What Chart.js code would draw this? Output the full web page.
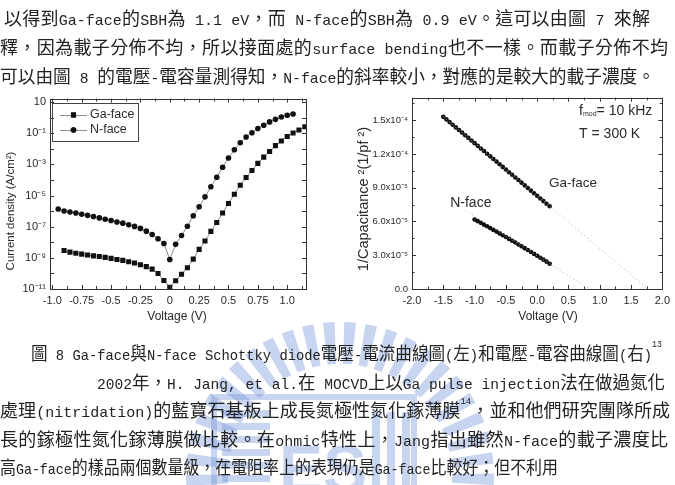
<!DOCTYPE html>
<html>
<head>
<meta charset="utf-8">
<script src="https://cdn.jsdelivr.net/npm/chart.js@4.4.1/dist/chart.umd.min.js"></script>
<style>
html, body { margin: 0; padding: 0; background: #fff; }
body { width: 675px; height: 485px; position: relative; overflow: hidden; }
#wm { position: absolute; left: 0; top: 0; z-index: 0; }
canvas.ch { position: absolute; z-index: 1; }
.ln {
  position: absolute; display: inline-block; white-space: nowrap; z-index: 2;
  font-family: "Noto Sans CJK TC", sans-serif; font-size: 18px; line-height: 24px;
  color: #222; transform-origin: 0 50%;
}
.ln .l { font-family: "Liberation Mono", monospace; font-size: 15px; }
.ln sup { font-family: "Liberation Mono", monospace; font-size: 9px; vertical-align: top; line-height: 10px; }
</style>
</head>
<body>
<canvas id="wm" width="675" height="485"></canvas>
<canvas id="iv" class="ch" width="320" height="240" style="left:0;top:88px"></canvas>
<canvas id="cv" class="ch" width="335" height="240" style="left:340px;top:88px"></canvas>
<script>
// ---- I-V data (left) ----
const ivVoltGa = [-0.90, -0.85, -0.80, -0.75, -0.70, -0.65, -0.60, -0.55, -0.50, -0.45,
  -0.40, -0.35, -0.30, -0.25, -0.20, -0.15, -0.10, -0.05, 0.00, 0.05,
  0.10, 0.15, 0.20, 0.25, 0.30, 0.35, 0.40, 0.45, 0.50, 0.55,
  0.60, 0.65, 0.70, 0.75, 0.80, 0.85, 0.90, 0.95, 1.00, 1.05, 1.10, 1.15];
const ivCurGa = [2.95e-9, 2.34e-9, 2.0e-9, 1.74e-9, 1.51e-9, 1.35e-9, 1.23e-9, 1.07e-9, 9.3e-10, 7.9e-10,
  6.9e-10, 5.6e-10, 4.7e-10, 3.6e-10, 2.75e-10, 1.9e-10, 1.0e-10, 3.5e-11, 1.3e-11, 3.4e-11,
  8.9e-11, 2.3e-10, 8.3e-10, 3.5e-9, 1.2e-8, 5.0e-8, 1.86e-7, 7.6e-7, 3.1e-6, 1.23e-5,
  4.6e-5, 1.45e-4, 4.1e-4, 1.17e-3, 2.95e-3, 6.8e-3, 1.62e-2, 3.2e-2, 6.3e-2, 0.105, 0.162, 0.263];
const ivVoltN = [-0.95, -0.90, -0.85, -0.80, -0.75, -0.70, -0.65, -0.60, -0.55, -0.50,
  -0.45, -0.40, -0.35, -0.30, -0.25, -0.20, -0.15, -0.10, -0.05, 0.00,
  0.05, 0.10, 0.15, 0.20, 0.25, 0.30, 0.35, 0.40, 0.45, 0.50,
  0.55, 0.60, 0.65, 0.70, 0.75, 0.80, 0.85, 0.90, 0.95, 1.00, 1.05];
const ivCurN = [1.38e-6, 1.02e-6, 8.9e-7, 7.6e-7, 6.3e-7, 5.4e-7, 4.5e-7, 3.7e-7, 3.0e-7, 2.5e-7,
  2.0e-7, 1.7e-7, 1.32e-7, 1.05e-7, 7.8e-8, 5.2e-8, 3.2e-8, 1.7e-8, 8.3e-9, 7.9e-10,
  7.4e-9, 2.75e-8, 1.07e-7, 5.1e-7, 1.9e-6, 8.3e-6, 3.7e-5, 1.5e-4, 6.6e-4, 2.6e-3,
  8.7e-3, 2.5e-2, 5.8e-2, 0.11, 0.204, 0.33, 0.54, 0.79, 1.12, 1.45, 1.74];
const ivXTicks = [-1.0, -0.75, -0.5, -0.25, 0, 0.25, 0.5, 0.75, 1.0];
const ivXLabels = ["-1.0", "-0.75", "-0.5", "-0.25", "0", "0.25", "0.5", "0.75", "1.0"];
const ivXMinor = [-0.875, -0.625, -0.375, -0.125, 0.125, 0.375, 0.625, 0.875, 1.125];
const ivYTicks = [1e-11, 1e-10, 1e-9, 1e-8, 1e-7, 1e-6, 1e-5, 1e-4, 1e-3, 1e-2, 1e-1, 1, 10];
const ivYLabels = ["10⁻¹¹", "", "10⁻⁹", "", "10⁻⁷", "", "10⁻⁵", "", "10⁻³", "", "10⁻¹", "", "10"];

// ---- C-V data (right) ----
const cvVoltGa = [-1.50, -1.45, -1.40, -1.35, -1.30, -1.25, -1.20, -1.15, -1.10, -1.05,
  -1.00, -0.95, -0.90, -0.85, -0.80, -0.75, -0.70, -0.65, -0.60, -0.55,
  -0.50, -0.45, -0.40, -0.35, -0.30, -0.25, -0.20, -0.15, -0.10, -0.05,
  0.00, 0.05, 0.10, 0.15, 0.20];
const cvInvGa = [1.530e-4, 1.507e-4, 1.483e-4, 1.460e-4, 1.436e-4, 1.413e-4, 1.390e-4, 1.366e-4, 1.343e-4, 1.319e-4,
  1.296e-4, 1.272e-4, 1.249e-4, 1.226e-4, 1.202e-4, 1.179e-4, 1.155e-4, 1.132e-4, 1.109e-4, 1.085e-4,
  1.062e-4, 1.038e-4, 1.015e-4, 0.991e-4, 0.968e-4, 0.945e-4, 0.921e-4, 0.898e-4, 0.874e-4, 0.851e-4,
  0.828e-4, 0.804e-4, 0.781e-4, 0.757e-4, 0.735e-4];
const cvVoltN = [-1.00, -0.95, -0.90, -0.85, -0.80, -0.75, -0.70, -0.65, -0.60, -0.55,
  -0.50, -0.45, -0.40, -0.35, -0.30, -0.25, -0.20, -0.15, -0.10, -0.05,
  0.00, 0.05, 0.10, 0.15, 0.20];
const cvInvN = [6.18e-5, 6.03e-5, 5.88e-5, 5.72e-5, 5.57e-5, 5.41e-5, 5.25e-5, 5.10e-5, 4.94e-5, 4.78e-5,
  4.62e-5, 4.45e-5, 4.29e-5, 4.13e-5, 3.96e-5, 3.80e-5, 3.63e-5, 3.46e-5, 3.29e-5, 3.12e-5,
  2.95e-5, 2.78e-5, 2.61e-5, 2.43e-5, 2.25e-5];
// dotted linear fits extrapolated to the voltage axis
const cvFitGaV = [-1.50, 1.77];
const cvFitGa = [1.53e-4, 0];
const cvFitNV = [-1.15, 0.84];
const cvFitN = [7.0e-5, 0];
const cvXTicks = [-2.0, -1.5, -1.0, -0.5, 0.0, 0.5, 1.0, 1.5, 2.0];
const cvXLabels = ["-2.0", "-1.5", "-1.0", "-0.5", "0.0", "0.5", "1.0", "1.5", "2.0"];
const cvXMinor = [-1.75, -1.25, -0.75, -0.25, 0.25, 0.75, 1.25, 1.75];
const cvYTicks = [0, 3e-5, 6e-5, 9e-5, 1.2e-4, 1.5e-4];
const cvYLabels = ["0.0", "3.0x10⁻⁵", "6.0x10⁻⁵", "9.0x10⁻⁵", "1.2x10⁻⁴", "1.5x10⁻⁴"];
const cvYMinor = [1.5e-5, 4.5e-5, 7.5e-5, 1.05e-4, 1.35e-4, 1.65e-4];

const pts = (xs, ys) => xs.map((v, i) => ({ x: v, y: ys[i] }));
const INK = "#2a2a2a";
const tickFont = { family: "Liberation Sans, Arial, sans-serif", size: 11 };

// frame around the plot with inward ticks on all four sides
const frameTicks = {
  id: "frameTicks",
  afterDraw(chart, args, o) {
    const { ctx, chartArea: a, scales: { x, y } } = chart;
    ctx.save();
    ctx.strokeStyle = "#333";
    ctx.lineWidth = 1;
    ctx.strokeRect(Math.round(a.left) + 0.5, Math.round(a.top) + 0.5,
      Math.round(a.right - a.left), Math.round(a.bottom - a.top));
    ctx.beginPath();
    const tx = (v, len) => {
      const p = Math.round(x.getPixelForValue(v)) + 0.5;
      ctx.moveTo(p, a.bottom); ctx.lineTo(p, a.bottom - len);
      ctx.moveTo(p, a.top); ctx.lineTo(p, a.top + len);
    };
    const ty = (v, len) => {
      const p = Math.round(y.getPixelForValue(v)) + 0.5;
      ctx.moveTo(a.left, p); ctx.lineTo(a.left + len, p);
      ctx.moveTo(a.right, p); ctx.lineTo(a.right - len, p);
    };
    x.ticks.forEach(t => tx(t.value, o.major));
    y.ticks.forEach(t => ty(t.value, o.major));
    (o.xMinor || []).forEach(v => tx(v, o.minor));
    (o.yMinor || []).forEach(v => ty(v, o.minor));
    ctx.stroke();
    ctx.restore();
  }
};

// axis titles and in-plot annotations
const textLayer = {
  id: "textLayer",
  afterDraw(chart, args, o) {
    const { ctx, scales } = chart;
    ctx.save();
    ctx.fillStyle = INK;
    for (const t of o.items || []) {
      let px = t.x, py = t.y;
      if (t.xv !== undefined) {
        px = scales.x.getPixelForValue(t.xv);
        py = scales.y.getPixelForValue(t.yv);
      }
      ctx.save();
      ctx.translate(px, py);
      if (t.rot) ctx.rotate(t.rot);
      ctx.textBaseline = "middle";
      if (t.parts) {
        ctx.textAlign = "left";
        let cx = 0;
        for (const p of t.parts) {
          ctx.font = `${p.size}px Liberation Sans, Arial, sans-serif`;
          ctx.fillText(p.text, cx, p.dy || 0);
          cx += ctx.measureText(p.text).width;
        }
      } else {
        ctx.font = `${t.size}px Liberation Sans, Arial, sans-serif`;
        ctx.textAlign = t.align || "center";
        ctx.fillText(t.text, 0, 0);
      }
      ctx.restore();
    }
    ctx.restore();
  }
};

// boxed legend inside the plot (left chart)
const legendBox = {
  id: "legendBox",
  afterDraw(chart, args, o) {
    if (!o.box) return;
    const { ctx } = chart;
    const b = o.box;
    ctx.save();
    ctx.strokeStyle = "#444";
    ctx.lineWidth = 1;
    ctx.strokeRect(b.x + 0.5, b.y + 0.5, b.w, b.h);
    ctx.font = "12.5px Liberation Sans, Arial, sans-serif";
    ctx.textBaseline = "middle";
    chart.data.datasets.forEach((ds, i) => {
      const ly = b.y + o.rows[i];
      ctx.strokeStyle = ds.borderColor;
      ctx.beginPath();
      ctx.moveTo(b.x + 8, ly + 0.5); ctx.lineTo(b.x + 35, ly + 0.5);
      ctx.stroke();
      ctx.fillStyle = "#111";
      Chart.helpers.drawPoint(ctx, { pointStyle: ds.pointStyle, radius: ds.pointRadius, borderWidth: 0 }, b.x + 21.5, ly);
      ctx.fill();
      ctx.fillStyle = INK;
      ctx.fillText(ds.label, b.x + 38, ly);
    });
    ctx.restore();
  }
};

const axisBase = {
  grid: { display: false, drawTicks: false },
  border: { display: false }
};

new Chart(document.getElementById("iv"), {
  type: "scatter",
  data: {
    datasets: [
      { label: "Ga-face", data: pts(ivVoltGa, ivCurGa), showLine: true,
        borderColor: "#8c8c8c", borderWidth: 1, pointStyle: "rect", pointRadius: 3.6,
        pointBackgroundColor: "#111", pointBorderWidth: 0 },
      { label: "N-face", data: pts(ivVoltN, ivCurN), showLine: true,
        borderColor: "#8c8c8c", borderWidth: 1, pointStyle: "circle", pointRadius: 2.8,
        pointBackgroundColor: "#111", pointBorderWidth: 0 }
    ]
  },
  options: {
    responsive: false, animation: false, devicePixelRatio: 1,
    layout: { padding: { top: 8, right: 14, left: 0, bottom: 0 } },
    plugins: {
      legend: { display: false }, tooltip: { enabled: false },
      frameTicks: { major: 4, minor: 3, xMinor: ivXMinor },
      legendBox: { box: { x: 52, y: 15, w: 86, h: 38 }, rows: [12, 27] },
      textLayer: { items: [
        { text: "Current density (A/cm²)", x: 11, y: 123, rot: -Math.PI / 2, size: 11.5 },
        { text: "Voltage (V)", x: 177, y: 229, size: 12 }
      ] }
    },
    scales: {
      x: { ...axisBase, type: "linear", min: -1.02, max: 1.16,
        afterBuildTicks: s => { s.ticks = ivXTicks.map(v => ({ value: v })); },
        afterFit: s => { s.height = 39; },
        ticks: { padding: 5, font: tickFont, color: INK, autoSkip: false, maxRotation: 0,
          callback: (v, i) => ivXLabels[i] } },
      y: { ...axisBase, type: "logarithmic", min: 1e-11, max: 17,
        afterBuildTicks: s => { s.ticks = ivYTicks.map(v => ({ value: v })); },
        afterFit: s => { s.width = 50; },
        ticks: { padding: 4, font: tickFont, color: INK, autoSkip: false,
          callback: (v, i) => ivYLabels[i] } }
    }
  },
  plugins: [frameTicks, textLayer, legendBox]
});

new Chart(document.getElementById("cv"), {
  type: "scatter",
  data: {
    datasets: [
      { label: "Ga-face fit", data: pts(cvFitGaV, cvFitGa), showLine: true, pointRadius: 0,
        borderColor: "#aaa", borderWidth: 1, borderDash: [1, 3] },
      { label: "N-face fit", data: pts(cvFitNV, cvFitN), showLine: true, pointRadius: 0,
        borderColor: "#aaa", borderWidth: 1, borderDash: [1, 3] },
      { label: "Ga-face", data: pts(cvVoltGa, cvInvGa), pointRadius: 2.3,
        pointBackgroundColor: "#111", pointBorderWidth: 0 },
      { label: "N-face", data: pts(cvVoltN, cvInvN), pointRadius: 2.3,
        pointBackgroundColor: "#111", pointBorderWidth: 0 }
    ]
  },
  options: {
    responsive: false, animation: false, devicePixelRatio: 1,
    layout: { padding: { top: 8, right: 8, left: 0, bottom: 0 } },
    plugins: {
      legend: { display: false }, tooltip: { enabled: false },
      frameTicks: { major: 4, minor: 2.5, xMinor: cvXMinor, yMinor: cvYMinor },
      textLayer: { items: [
        { text: "1/Capacitance ²(1/pf ²)", x: 24, y: 111, rot: -Math.PI / 2, size: 14.5 },
        { text: "Voltage (V)", x: 208, y: 229, size: 12 },
        { parts: [{ text: "f", size: 14 }, { text: "mod", size: 7, dy: 3 }, { text: "= 10 kHz", size: 14 }],
          xv: 0.67, yv: 1.58e-4 },
        { text: "T = 300 K", xv: 0.67, yv: 1.375e-4, size: 14, align: "left" },
        { text: "Ga-face", xv: 0.19, yv: 9.4e-5, size: 13.5, align: "left" },
        { text: "N-face", xv: -1.39, yv: 7.6e-5, size: 14, align: "left" }
      ] }
    },
    scales: {
      x: { ...axisBase, type: "linear", min: -2, max: 2,
        afterBuildTicks: s => { s.ticks = cvXTicks.map(v => ({ value: v })); },
        afterFit: s => { s.height = 39; },
        ticks: { padding: 5, font: tickFont, color: INK, autoSkip: false, maxRotation: 0,
          callback: (v, i) => cvXLabels[i] } },
      y: { ...axisBase, type: "linear", min: 0, max: 1.7e-4,
        afterBuildTicks: s => { s.ticks = cvYTicks.map(v => ({ value: v })); },
        afterFit: s => { s.width = 72; },
        ticks: { padding: 4, font: { family: "Liberation Sans, Arial, sans-serif", size: 9.5 },
          color: INK, autoSkip: false, callback: (v, i) => cvYLabels[i] } }
    }
  },
  plugins: [frameTicks, textLayer]
});

// ---- page text (scanned thesis page) ----
const textLines = [
  { x: 4, y: 17, w: 646, t: "以得到Ga-face的SBH為 1.1 eV，而 N-face的SBH為 0.9 eV。這可以由圖 7 來解" },
  { x: 0, y: 46, w: 668, t: "釋，因為載子分佈不均，所以接面處的surface bending也不一樣。而載子分佈不均" },
  { x: 0, y: 75, w: 655, t: "可以由圖 8 的電壓-電容量測得知，N-face的斜率較小，對應的是較大的載子濃度。" },
  { x: 31, y: 352, w: 631, t: "圖 8 Ga-face與N-face Schottky diode電壓-電流曲線圖(左)和電壓-電容曲線圖(右)", sup: "13" },
  { x: 97, y: 381, w: 568, t: "2002年，H. Jang, et al.在 MOCVD上以Ga pulse injection法在做過氮化" },
  { x: 0, y: 409, w: 670, t: "處理(nitridation)的藍寶石基板上成長氮極性氮化鎵薄膜", sup: "14", t2: "，並和他們研究團隊所成" },
  { x: 0, y: 438, w: 668, t: "長的鎵極性氮化鎵薄膜做比較。在ohmic特性上，Jang指出雖然N-face的載子濃度比" },
  { x: 0, y: 466, w: 558, t: "高Ga-face的樣品兩個數量級，在電阻率上的表現仍是Ga-face比較好；但不利用" }
];
const wrapLatin = s => s.replace(/[\x20-\x7e]+/g, m => `<span class="l">${m}</span>`);
for (const L of textLines) {
  const d = document.createElement("div");
  d.className = "ln";
  d.innerHTML = wrapLatin(L.t) + (L.sup ? `<sup>${L.sup}</sup>` : "") + (L.t2 ? wrapLatin(L.t2) : "");
  d.style.left = L.x + "px";
  d.style.top = (L.y - 12) + "px";
  document.body.appendChild(d);
  const w = d.getBoundingClientRect().width;
  if (w > L.w) {
    d.style.transform = `scaleX(${L.w / w})`;
  } else {
    d.style.display = "block";
    d.style.whiteSpace = "normal";
    d.style.width = L.w + "px";
    d.style.textAlign = "justify";
    d.style.textAlignLast = "justify";
  }
}

// ---- faint university watermark behind the lower text ----
const wm = document.getElementById("wm").getContext("2d");
const wmInk = "rgba(110,145,215,0.38)";
wm.fillStyle = wmInk;
const wcx = 340, wcy = 476, r1 = 112, r2 = 154, nBars = 24;
for (let i = 0; i < nBars; i++) {
  const a0 = 0.97 * Math.PI + (i + 0.2) * 1.06 * Math.PI / nBars;
  const a1 = a0 + 0.55 * 1.06 * Math.PI / nBars;
  wm.beginPath();
  wm.arc(wcx, wcy, r2, a0, a1);
  wm.arc(wcx, wcy, r1, a1, a0, true);
  wm.closePath();
  wm.fill();
}
wm.strokeStyle = wmInk;
wm.lineWidth = 6;
wm.strokeRect(214, 397, 200, 100);
for (let yy = 410; yy < 485; yy += 13) wm.fillRect(222, yy, 48, 7);
wm.font = "bold 66px Liberation Sans, Arial, sans-serif";
wm.fillText("ES", 279, 492);
for (let xx = 372; xx < 410; xx += 15) wm.fillRect(xx, 412, 8, 78);
</script>
</body>
</html>
